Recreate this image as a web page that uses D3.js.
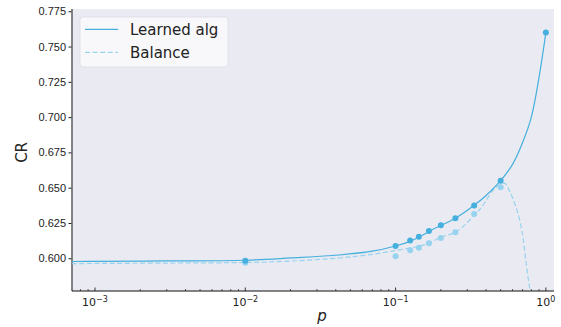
<!DOCTYPE html>
<html>
<head>
<meta charset="utf-8">
<script src="https://cdn.jsdelivr.net/npm/d3@7"></script>
<style>
  body { margin: 0; background: #fff; }
  svg { font-family: "DejaVu Sans", sans-serif; }
</style>
</head>
<body>
<div id="chart"></div>
<script>
// Curve samples (p, CR)
const learnedCurveP = [0.0007, 0.001, 0.003, 0.01, 0.02, 0.042, 0.07, 0.1, 0.125, 0.143, 0.167, 0.2, 0.25, 0.333, 0.4, 0.5, 0.6, 0.7, 0.8, 0.9, 1.0];
const learnedCurveCR = [0.5977, 0.5978, 0.5981, 0.5986, 0.6002, 0.6023, 0.6050, 0.6087, 0.6120, 0.6150, 0.6190, 0.6232, 0.6283, 0.6375, 0.6445, 0.6550, 0.6665, 0.6820, 0.7000, 0.7280, 0.7600];

const balanceCurveP = [0.0007, 0.001, 0.003, 0.01, 0.02, 0.042, 0.07, 0.1, 0.143, 0.167, 0.2, 0.25, 0.32, 0.383, 0.458, 0.533, 0.576, 0.638, 0.689, 0.706, 0.744, 0.782, 0.81];
const balanceCurveCR = [0.5962, 0.5963, 0.5966, 0.5970, 0.5980, 0.6002, 0.6028, 0.6055, 0.6085, 0.6106, 0.6150, 0.6184, 0.6283, 0.6378, 0.6496, 0.6531, 0.6471, 0.6350, 0.6208, 0.6137, 0.5941, 0.5775, 0.5630];

// Measured points
const pointP = [0.01, 0.1, 1/8, 1/7, 1/6, 1/5, 1/4, 1/3, 1/2, 1.0];
const learnedPointCR = [0.5983, 0.6087, 0.6125, 0.6153, 0.6193, 0.6234, 0.6283, 0.6373, 0.6550, 0.7600];
const balancePointCR = [0.5969, 0.6014, 0.6057, 0.6075, 0.6106, 0.6144, 0.6184, 0.6314, 0.6503];

const yTicks = [0.600, 0.625, 0.650, 0.675, 0.700, 0.725, 0.750, 0.775];
const xTicks = [1e-3, 1e-2, 1e-1, 1];
const xTickExp = ["\u22123", "\u22122", "\u22121", "0"];

const learnedColor = "#45b0de";
const balanceColor = "#96d3ee";

const margin = { top: 9, right: 7, bottom: 36, left: 72 };
const width = 561 - margin.left - margin.right;
const height = 327 - margin.top - margin.bottom;

const svg = d3.select("#chart").append("svg")
    .attr("width", 561)
    .attr("height", 327);

const g = svg.append("g")
    .attr("transform", `translate(${margin.left},${margin.top})`);

// Scales
const x = d3.scaleLog()
    .domain([Math.pow(10, -3.153), Math.pow(10, 0.054)])
    .range([0, width]);

const y = d3.scaleLinear()
    .domain([0.5768, 0.7766])
    .range([height, 0]);

// Background
g.append("rect")
    .attr("width", width)
    .attr("height", height)
    .attr("fill", "#eaeaf2");

g.append("clipPath").attr("id", "plot-clip")
    .append("rect").attr("width", width).attr("height", height);

// Y axis
const yAxis = d3.axisLeft(y)
    .tickValues(yTicks)
    .tickFormat(d3.format(".3f"))
    .tickSize(3.5)
    .tickPadding(2.5);

const yG = g.append("g").call(yAxis);
yG.select(".domain").remove();
yG.selectAll("text").style("font-size", "11px").attr("fill", "#222");
yG.selectAll("line").attr("stroke", "#222");

// X axis ticks (inward)
const minorTicks = [];
for (let e = -4; e <= 0; e++) {
    for (let k = 2; k <= 9; k++) {
        const v = k * Math.pow(10, e);
        if (v >= x.domain()[0] && v <= x.domain()[1]) minorTicks.push(v);
    }
}

g.selectAll(".minor-tick")
    .data(minorTicks)
    .enter().append("line")
    .attr("class", "minor-tick")
    .attr("x1", d => x(d)).attr("x2", d => x(d))
    .attr("y1", height).attr("y2", height - 2)
    .attr("stroke", "#222").attr("stroke-width", 0.7);

g.selectAll(".major-tick")
    .data(xTicks)
    .enter().append("line")
    .attr("class", "major-tick")
    .attr("x1", d => x(d)).attr("x2", d => x(d))
    .attr("y1", height).attr("y2", height - 3.5)
    .attr("stroke", "#222").attr("stroke-width", 0.9);

const xLabels = g.selectAll(".x-label")
    .data(xTicks)
    .enter().append("text")
    .attr("class", "x-label")
    .attr("x", d => x(d))
    .attr("y", height + 15)
    .attr("text-anchor", "middle")
    .attr("fill", "#222")
    .style("font-size", "11px");

xLabels.append("tspan").text("10");
xLabels.append("tspan")
    .attr("dy", -4)
    .style("font-size", "8px")
    .text((d, i) => xTickExp[i]);

// Spines
g.append("line")
    .attr("x1", 0).attr("x2", 0)
    .attr("y1", 0).attr("y2", height)
    .attr("stroke", "#666").attr("stroke-width", 1.6);

g.append("line")
    .attr("x1", 0).attr("x2", width)
    .attr("y1", height).attr("y2", height)
    .attr("stroke", "#111").attr("stroke-width", 1.2);

// Axis labels
svg.append("text")
    .attr("transform", `translate(27, ${margin.top + y(0.675)}) rotate(-90)`)
    .attr("text-anchor", "middle")
    .attr("fill", "#222")
    .style("font-size", "15px")
    .text("CR");

svg.append("text")
    .attr("x", margin.left + width / 2 + 9)
    .attr("y", 321)
    .attr("text-anchor", "middle")
    .attr("fill", "#222")
    .style("font-size", "15px")
    .style("font-style", "italic")
    .text("p");

// Lines
const line = d3.line()
    .x(d => x(d[0]))
    .y(d => y(d[1]))
    .curve(d3.curveCatmullRom.alpha(0.5));

const plot = g.append("g").attr("clip-path", "url(#plot-clip)");

plot.append("path")
    .datum(balanceCurveP.map((p, i) => [p, balanceCurveCR[i]]))
    .attr("d", line)
    .attr("fill", "none")
    .attr("stroke", balanceColor)
    .attr("stroke-width", 1.2)
    .attr("stroke-dasharray", "5,2.6");

plot.append("path")
    .datum(learnedCurveP.map((p, i) => [p, learnedCurveCR[i]]))
    .attr("d", line)
    .attr("fill", "none")
    .attr("stroke", learnedColor)
    .attr("stroke-width", 1.2);

// Points
plot.selectAll(".balance-dot")
    .data(balancePointCR.map((v, i) => [pointP[i], v]))
    .enter().append("circle")
    .attr("class", "balance-dot")
    .attr("cx", d => x(d[0]))
    .attr("cy", d => y(d[1]))
    .attr("r", 3)
    .attr("fill", balanceColor);

plot.selectAll(".learned-dot")
    .data(learnedPointCR.map((v, i) => [pointP[i], v]))
    .enter().append("circle")
    .attr("class", "learned-dot")
    .attr("cx", d => x(d[0]))
    .attr("cy", d => y(d[1]))
    .attr("r", 3)
    .attr("fill", learnedColor);

// Legend
const legend = svg.append("g").attr("transform", "translate(80,17)");

legend.append("rect")
    .attr("width", 148)
    .attr("height", 50)
    .attr("rx", 3)
    .attr("fill", "#fafafc")
    .attr("fill-opacity", 0.9)
    .attr("stroke", "#dcdce4")
    .attr("stroke-width", 0.8);

const legendItems = [
    { label: "Learned alg", color: learnedColor, dash: null },
    { label: "Balance", color: balanceColor, dash: "5,2.6" }
];

legendItems.forEach((item, i) => {
    const yy = 12.3 + i * 23;
    legend.append("line")
        .attr("x1", 5).attr("x2", 38)
        .attr("y1", yy).attr("y2", yy)
        .attr("stroke", item.color)
        .attr("stroke-width", 1.2)
        .attr("stroke-dasharray", item.dash);
    legend.append("text")
        .attr("x", 50)
        .attr("y", yy + 5.5)
        .attr("fill", "#222")
        .style("font-size", "15px")
        .text(item.label);
});
</script>
</body>
</html>
